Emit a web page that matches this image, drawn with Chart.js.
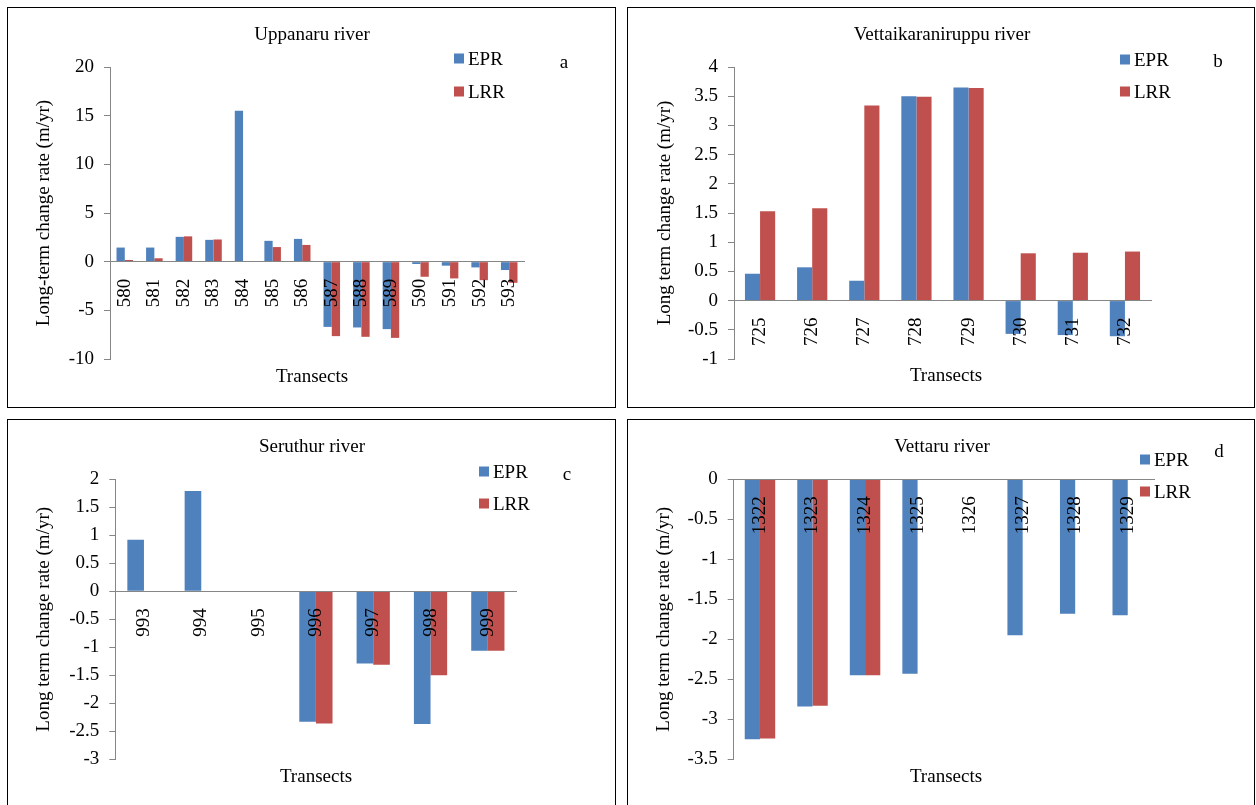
<!DOCTYPE html>
<html>
<head>
<meta charset="utf-8">
<script src="https://cdn.jsdelivr.net/npm/chart.js@4"></script>
<style>
  html, body { margin: 0; padding: 0; background: #fff; }
  body { position: relative; width: 1256px; height: 805px; overflow: hidden;
         font-family: "Liberation Serif", "Times New Roman", serif; color: #000; }
  .panel { position: absolute; border: 1px solid #000; box-sizing: border-box; }
  .panel canvas { position: absolute; left: 0; top: 0; }
  .txt { position: absolute; font-size: 19px; line-height: 1; white-space: nowrap; transform: translate(-50%, -50%); }
  .leg { position: absolute; font-size: 19px; line-height: 1; white-space: nowrap; display: flex; align-items: center; transform: translateY(-50%); }
  .leg i { display: inline-block; width: 10px; height: 10px; margin-right: 4px; }
</style>
</head>
<body>
<script>
// Series shared by all four rivers
const seriesNames = ['EPR', 'LRR'];
const seriesColors = ['#4F81BD', '#C0504D'];

// a - Uppanaru river
const uppanaruTransects = ['580', '581', '582', '583', '584', '585', '586', '587', '588', '589', '590', '591', '592', '593'];
const uppanaruEPR = [1.45, 1.45, 2.55, 2.24, 15.5, 2.14, 2.34, -6.7, -6.76, -6.93, -0.24, -0.41, -0.59, -0.86];
const uppanaruLRR = [0.17, 0.35, 2.6, 2.28, 0, 1.5, 1.72, -7.65, -7.72, -7.83, -1.55, -1.72, -1.9, -2.17];
const uppanaruTicks = [-10, -5, 0, 5, 10, 15, 20];

// b - Vettaikaraniruppu river
const vettaikTransects = ['725', '726', '727', '728', '729', '730', '731', '732'];
const vettaikEPR = [0.46, 0.57, 0.34, 3.5, 3.65, -0.57, -0.59, -0.61];
const vettaikLRR = [1.53, 1.58, 3.34, 3.49, 3.64, 0.81, 0.82, 0.84];
const vettaikTicks = [-1, -0.5, 0, 0.5, 1, 1.5, 2, 2.5, 3, 3.5, 4];

// c - Seruthur river
const seruthurTransects = ['993', '994', '995', '996', '997', '998', '999'];
const seruthurEPR = [0.92, 1.79, null, -2.33, -1.29, -2.37, -1.06];
const seruthurLRR = [null, null, null, -2.36, -1.31, -1.5, -1.06];
const seruthurTicks = [-3, -2.5, -2, -1.5, -1, -0.5, 0, 0.5, 1, 1.5, 2];

// d - Vettaru river
const vettaruTransects = ['1322', '1323', '1324', '1325', '1326', '1327', '1328', '1329'];
const vettaruEPR = [-3.25, -2.84, -2.45, -2.43, null, -1.95, -1.68, -1.7];
const vettaruLRR = [-3.24, -2.83, -2.45, null, null, null, null, null];
const vettaruTicks = [-3.5, -3, -2.5, -2, -1.5, -1, -0.5, 0];

const font = { family: '"Liberation Serif", "Times New Roman", serif', size: 19 };
const axisGrey = '#868686';

function addText(cls, html, x, y) {
  const el = document.createElement('div');
  el.className = cls;
  el.innerHTML = html;
  el.style.left = x + 'px';
  el.style.top = y + 'px';
  document.body.appendChild(el);
  return el;
}

function makePanel(p) {
  const box = document.createElement('div');
  box.className = 'panel';
  box.style.left = p.box[0] + 'px';
  box.style.top = p.box[1] + 'px';
  box.style.width = p.box[2] + 'px';
  box.style.height = p.box[3] + 'px';
  document.body.appendChild(box);

  const cw = p.box[2] - 2, ch = p.box[3] - 2;
  const ox = p.box[0] + 1, oy = p.box[1] + 1;
  const canvas = document.createElement('canvas');
  canvas.width = cw;
  canvas.height = ch;
  canvas.style.width = cw + 'px';
  canvas.style.height = ch + 'px';
  box.appendChild(canvas);

  const leftPad = p.yTitleX - ox - font.size * 1.2 / 2;
  const ticks = p.ticks;

  new Chart(canvas, {
    type: 'bar',
    data: {
      labels: p.labels,
      datasets: p.values.map((v, i) => ({
        label: seriesNames[i],
        data: v,
        backgroundColor: seriesColors[i],
        categoryPercentage: p.catPct,
        barPercentage: 1
      }))
    },
    options: {
      responsive: false,
      animation: false,
      layout: {
        padding: {
          left: leftPad,
          top: p.area[1] - oy,
          right: cw - (p.area[2] - ox),
          bottom: ch - (p.area[3] - oy)
        }
      },
      plugins: { legend: { display: false }, tooltip: { enabled: false } },
      scales: {
        x: {
          position: { y: 0 },
          grid: { display: false, drawTicks: false },
          border: { display: true, color: axisGrey, z: 1 },
          ticks: { z: 1, autoSkip: false, minRotation: 90, maxRotation: 90, padding: 17, color: '#000', font }
        },
        y: {
          min: ticks[0],
          max: ticks[ticks.length - 1],
          afterFit: s => { s.width = p.area[0] - ox - leftPad; },
          grid: { display: true, drawOnChartArea: false, drawTicks: true, tickLength: 6, color: axisGrey },
          border: { display: true, color: axisGrey },
          ticks: {
            stepSize: ticks[1] - ticks[0],
            padding: 10,
            color: '#000',
            font,
            callback: v => String(+Number(v).toFixed(2))
          },
          title: { display: true, text: p.yTitle, color: '#000', font, padding: 0 }
        }
      }
    }
  });

  addText('txt', p.title, p.titlePos[0], p.titlePos[1]);
  addText('txt', 'Transects', p.xTitlePos[0], p.xTitlePos[1]);
  addText('txt', p.letter, p.letterPos[0], p.letterPos[1]);
  seriesNames.forEach((name, i) => {
    addText('leg', '<i style="background:' + seriesColors[i] + '"></i>' + name, p.legend[0], p.legend[1 + i]);
  });
}

makePanel({
  box: [7, 7, 609, 401], area: [110, 67, 524, 359], yTitleX: 44,
  labels: uppanaruTransects, values: [uppanaruEPR, uppanaruLRR], ticks: uppanaruTicks, catPct: 0.56,
  title: 'Uppanaru river', titlePos: [312, 33], xTitlePos: [312, 375],
  yTitle: 'Long-term change rate (m/yr)',
  letter: 'a', letterPos: [564, 61], legend: [454, 58, 91]
});

makePanel({
  box: [627, 7, 628, 401], area: [734, 67, 1151, 359], yTitleX: 665,
  labels: vettaikTransects, values: [vettaikEPR, vettaikLRR], ticks: vettaikTicks, catPct: 0.58,
  title: 'Vettaikaraniruppu river', titlePos: [942, 33], xTitlePos: [946, 374],
  yTitle: 'Long term change rate (m/yr)',
  letter: 'b', letterPos: [1218, 60], legend: [1120, 59, 91]
});

makePanel({
  box: [7, 419, 609, 400], area: [115.3, 479.3, 516.5, 759.3], yTitleX: 44,
  labels: seruthurTransects, values: [seruthurEPR, seruthurLRR], ticks: seruthurTicks, catPct: 0.58,
  title: 'Seruthur river', titlePos: [312, 445], xTitlePos: [316, 775],
  yTitle: 'Long term change rate (m/yr)',
  letter: 'c', letterPos: [567, 473], legend: [479, 471, 503]
});

makePanel({
  box: [627, 419, 628, 400], area: [733.7, 479.3, 1154, 759.3], yTitleX: 664,
  labels: vettaruTransects, values: [vettaruEPR, vettaruLRR], ticks: vettaruTicks, catPct: 0.58,
  title: 'Vettaru river', titlePos: [942, 445], xTitlePos: [946, 775],
  yTitle: 'Long term change rate (m/yr)',
  letter: 'd', letterPos: [1219, 450], legend: [1140, 459, 491]
});
</script>
</body>
</html>
